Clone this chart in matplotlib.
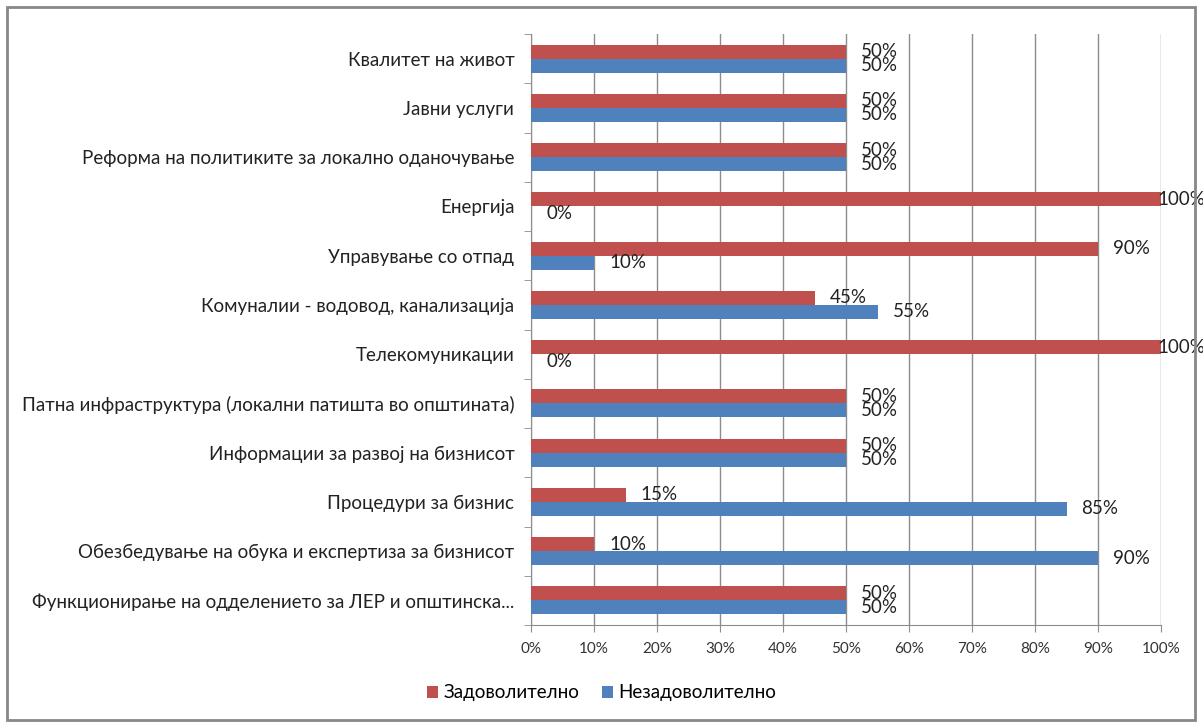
import numpy as np
import matplotlib.pyplot as plt
from matplotlib.patches import Rectangle

plt.rcParams['font.family'] = ['Lato', 'DejaVu Sans']

categories = [
    'Квалитет на живот',
    'Јавни услуги',
    'Реформа на политиките за локално оданочување',
    'Енергија',
    'Управување со отпад',
    'Комуналии - водовод, канализација',
    'Телекомуникации',
    'Патна инфраструктура (локални патишта во општината)',
    'Информации за развој на бизнисот',
    'Процедури за бизнис',
    'Обезбедување на обука и експертиза за бизнисот',
    'Функционирање на одделението за ЛЕР и општинска...',
]
satisfied = [50, 50, 50, 100, 90, 45, 100, 50, 50, 15, 10, 50]
unsatisfied = [50, 50, 50, 0, 10, 55, 0, 50, 50, 85, 90, 50]
series_names = ['Задоволително', 'Незадоволително']

red = '#C0504D'
blue = '#4F81BD'
grid_col = '#8C8C8C'

fig = plt.figure(figsize=(12.03, 7.27), dpi=100)
ax = fig.add_axes([0.4414, 0.1403, 0.5237, 0.8129])

y = np.arange(len(categories))
h = 0.285
b1 = ax.barh(y - h / 2, satisfied, height=h, color=red, label=series_names[0], zorder=3)
b2 = ax.barh(y + h / 2, unsatisfied, height=h, color=blue, label=series_names[1], zorder=3)

ax.set_xlim(0, 100)
ax.set_ylim(len(categories) - 0.5, -0.5)

ax.set_xticks(np.arange(0, 101, 10))
ax.set_xticklabels([f'{v}%' for v in range(0, 101, 10)], fontsize=11, color='#333333')
ax.set_yticks(y)
ax.set_yticklabels(categories, fontsize=13.5, color='#222222')
ax.set_yticks(np.arange(-0.5, len(categories), 1), minor=True)
ax.tick_params(axis='y', which='major', length=0, pad=12)
ax.tick_params(axis='y', which='minor', length=5, color=grid_col, direction='out')
ax.tick_params(axis='x', length=5, color=grid_col, direction='out', pad=7)

ax.grid(axis='x', color=grid_col, linewidth=1, zorder=0)
for s in ['top', 'right']:
    ax.spines[s].set_visible(False)
for s in ['left', 'bottom']:
    ax.spines[s].set_color(grid_col)

for bars, vals in [(b1, satisfied), (b2, unsatisfied)]:
    for bar, v in zip(bars, vals):
        off = -4 if v >= 100 else 15
        ax.annotate(f'{v}%', (v, bar.get_y() + bar.get_height() / 2),
                    xytext=(off, 0), textcoords='offset pixels',
                    va='center', ha='left', fontsize=13.5, color='#222222',
                    annotation_clip=False, zorder=4)

fig.legend(handles=[b1, b2], labels=series_names, loc='center',
           bbox_to_anchor=(0.5, 0.047), ncol=2, frameon=False, fontsize=13.5,
           handlelength=0.6, handleheight=0.6, handletextpad=0.3, columnspacing=1.2)

fig.patches.append(Rectangle((7 / 1203, 7 / 727), 1188 / 1203, 713 / 727,
                             transform=fig.transFigure, fill=False,
                             edgecolor='#888888', linewidth=2))

fig.savefig('out.png', dpi=100)
